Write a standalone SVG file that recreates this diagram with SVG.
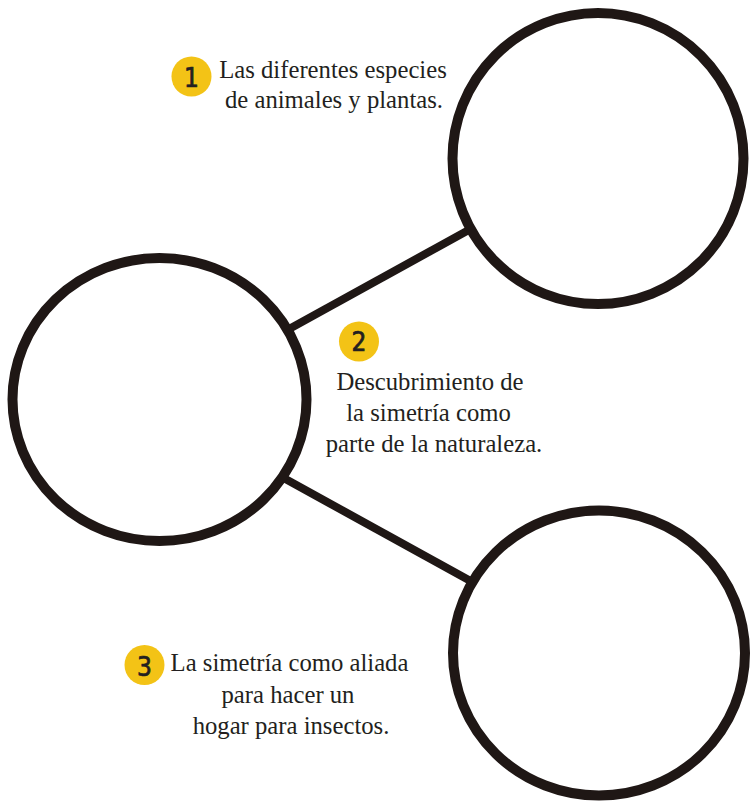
<svg xmlns="http://www.w3.org/2000/svg" width="756" height="809" viewBox="0 0 756 809">
<style>
.ring{fill:#ffffff;stroke:#1f1715;stroke-width:10}
.conn{stroke:#1f1715;stroke-width:8;stroke-linecap:butt}
.badge{fill:#f3c316}
.num{font-family:"DejaVu Sans Condensed","DejaVu Sans",sans-serif;font-size:26px;fill:#231f20;stroke:#231f20;stroke-width:0.7;text-anchor:middle}
.lbl{font-family:"Liberation Serif","Times New Roman",serif;font-size:24.7px;fill:#231f20;text-anchor:middle}
</style>
<rect width="756" height="809" fill="#ffffff"/>
<g id="connectors">
<line class="conn" x1="280" y1="334" x2="476" y2="226"/>
<line class="conn" x1="280" y1="476" x2="476" y2="584"/>
</g>
<g id="circle-top">
<ellipse class="ring" cx="598" cy="158.5" rx="145.5" ry="145.5"/>
</g>
<g id="circle-left">
<ellipse class="ring" cx="159.5" cy="399.5" rx="147" ry="141.5"/>
</g>
<g id="circle-bottom">
<ellipse class="ring" cx="599" cy="653" rx="146" ry="142.5"/>
</g>
<g id="label-1">
<circle class="badge" cx="191.5" cy="76.5" r="20"/>
<text class="num" x="191.5" y="86.5">1</text>
<text class="lbl" x="333" y="78">Las diferentes especies</text>
<text class="lbl" x="334" y="108">de animales y plantas.</text>
</g>
<g id="label-2">
<circle class="badge" cx="359" cy="341.5" r="20"/>
<text class="num" x="359" y="350.5">2</text>
<text class="lbl" x="430" y="390">Descubrimiento de</text>
<text class="lbl" x="428.5" y="421">la simetría como</text>
<text class="lbl" x="434" y="452">parte de la naturaleza.</text>
</g>
<g id="label-3">
<circle class="badge" cx="144.5" cy="665" r="20"/>
<text class="num" x="144.5" y="675.5">3</text>
<text class="lbl" x="289.5" y="671">La simetría como aliada</text>
<text class="lbl" x="288" y="703">para hacer un</text>
<text class="lbl" x="291" y="734">hogar para insectos.</text>
</g>
</svg>
